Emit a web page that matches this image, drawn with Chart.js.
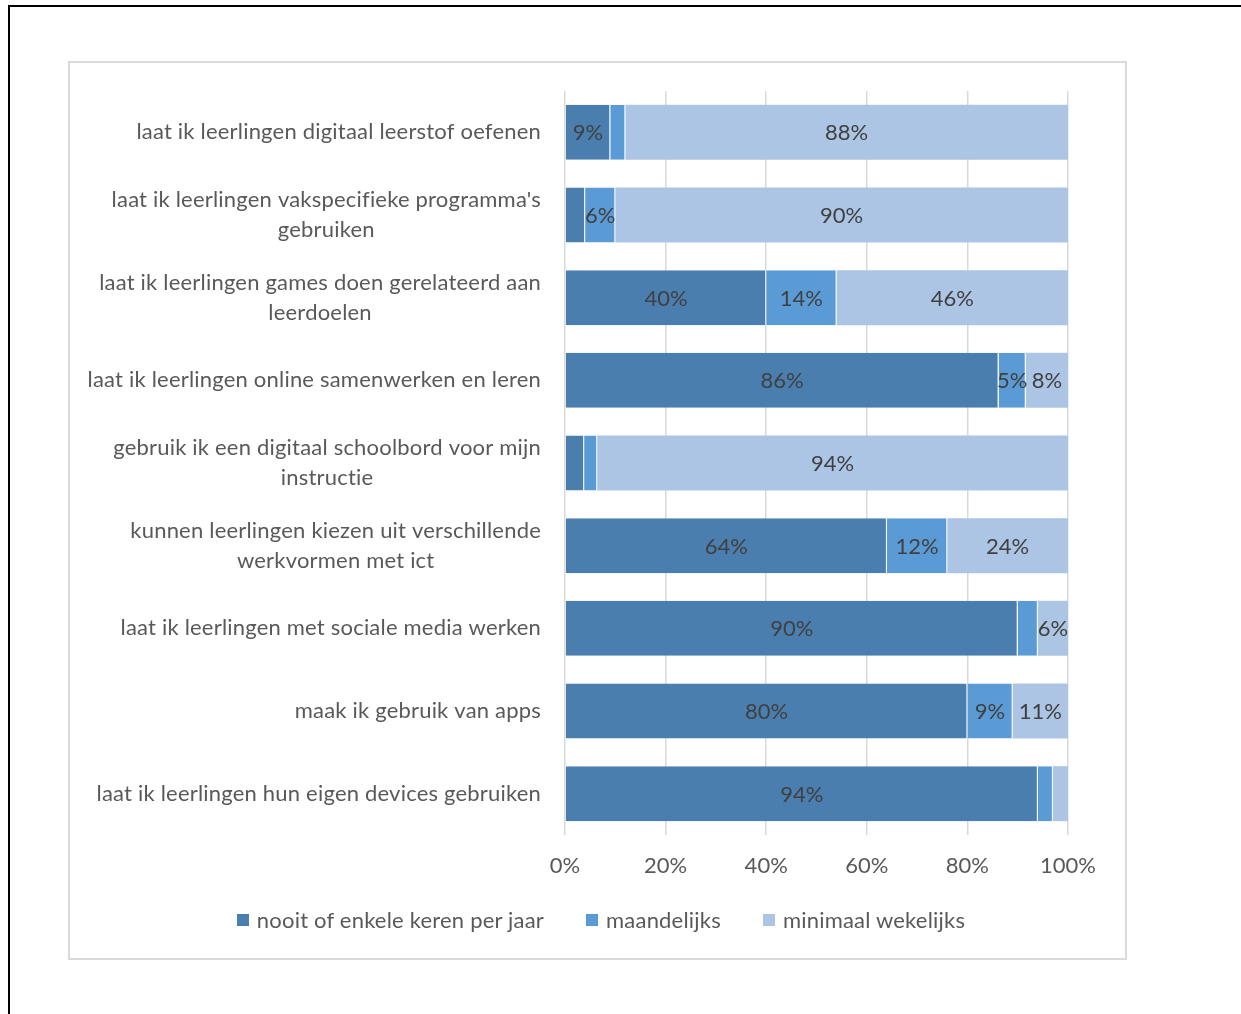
<!DOCTYPE html>
<html>
<head>
<meta charset="utf-8">
<script src="https://cdn.jsdelivr.net/npm/chart.js@4/dist/chart.umd.min.js"></script>
<style>
  html, body { margin: 0; padding: 0; background: #fff; }
  #wrap { position: relative; width: 1241px; height: 1014px; overflow: hidden; }
  #page { position: absolute; left: 8px; top: 5px; width: 1240px; height: 1020px;
          border-top: 2px solid #000; border-left: 2px solid #000; }
  #frame { position: absolute; left: 68px; top: 61px; width: 1055px; height: 895px;
           border: 2px solid #d9d9d9; }
  canvas { position: absolute; left: 0; top: 0; }
  #legend { position: absolute; left: 0; width: 1202px; top: 905px; display: flex;
            justify-content: center; gap: 42px; font: 22px Lato, "Open Sans", sans-serif;
            color: #595959; line-height: 30px; letter-spacing: 0.2px; }
  #legend span.item { display: flex; align-items: center; }
  #legend span.box { display: inline-block; width: 12px; height: 12px; margin-right: 8px; }
</style>
</head>
<body>
<div id="wrap">
  <div id="page"></div>
  <div id="frame"></div>
  <canvas id="usageChart" width="1241" height="1014"></canvas>
  <div id="legend"></div>
</div>
<script>
const categories = [
    'laat ik leerlingen digitaal leerstof oefenen',
    ["laat ik leerlingen vakspecifieke programma's", 'gebruiken'],
    ['laat ik leerlingen games doen gerelateerd aan', 'leerdoelen'],
    'laat ik leerlingen online samenwerken en leren',
    ['gebruik ik een digitaal schoolbord voor mijn', 'instructie'],
    ['kunnen leerlingen kiezen uit verschillende', 'werkvormen met ict'],
    'laat ik leerlingen met sociale media werken',
    'maak ik gebruik van apps',
    'laat ik leerlingen hun eigen devices gebruiken'
];
const nooit = [9, 4, 40, 86.2, 3.8, 64, 90, 80, 94];
const maandelijks = [3, 6, 14, 5.4, 2.6, 12, 4, 9, 3];
const wekelijks = [88, 90, 46, 8.4, 93.6, 24, 6, 11, 3];
const xTicks = ['0%', '20%', '40%', '60%', '80%', '100%'];

const fontFamily = 'Lato, "Open Sans", sans-serif';

// category labels: block right-aligned to the axis, lines centred in the block
const categoryLabels = {
    id: 'categoryLabels',
    afterDraw(chart) {
        const ctx = chart.ctx;
        const yScale = chart.scales.y;
        const right = chart.chartArea.left - 24;
        ctx.save();
        ctx.font = '22px ' + fontFamily;
        ctx.letterSpacing = '0.2px';
        ctx.fillStyle = '#595959';
        ctx.textAlign = 'center';
        ctx.textBaseline = 'middle';
        categories.forEach((label, i) => {
            const lines = Array.isArray(label) ? label : [label];
            const w = Math.max(...lines.map(l => ctx.measureText(l).width));
            const cx = right - w / 2;
            const cy = yScale.getPixelForValue(i);
            lines.forEach((l, j) => {
                ctx.fillText(l, cx, cy + (j - (lines.length - 1) / 2) * 30);
            });
        });
        ctx.restore();
    }
};

// percentage labels in the middle of each segment
const segmentLabels = {
    id: 'segmentLabels',
    afterDatasetsDraw(chart) {
        const ctx = chart.ctx;
        ctx.save();
        ctx.font = '22px ' + fontFamily;
        ctx.fillStyle = '#404040';
        ctx.textAlign = 'center';
        ctx.textBaseline = 'middle';
        chart.data.datasets.forEach((ds, di) => {
            chart.getDatasetMeta(di).data.forEach((bar, i) => {
                const v = ds.data[i];
                if (v < 4.5) return;
                ctx.fillText(Math.round(v) + '%', (bar.x + bar.base) / 2, bar.y + 1);
            });
        });
        ctx.restore();
    }
};

const ctx = document.getElementById('usageChart').getContext('2d');
const usageChart = new Chart(ctx, {
    type: 'bar',
    data: {
        labels: categories,
        datasets: [{
            label: 'nooit of enkele keren per jaar',
            data: nooit,
            backgroundColor: '#4a7eaf',
            borderColor: '#ffffff',
            borderWidth: { right: 1 },
            borderSkipped: false
        }, {
            label: 'maandelijks',
            data: maandelijks,
            backgroundColor: '#5b9bd5',
            borderColor: '#ffffff',
            borderWidth: { right: 1 },
            borderSkipped: false
        }, {
            label: 'minimaal wekelijks',
            data: wekelijks,
            backgroundColor: '#adc5e5',
            borderColor: '#ffffff',
            borderWidth: { right: 0 },
            borderSkipped: false
        }]
    },
    options: {
        indexAxis: 'y',
        responsive: false,
        animation: false,
        datasets: { bar: { categoryPercentage: 1, barPercentage: 0.665 } },
        layout: { padding: { left: 134, right: 173, top: 91, bottom: 133 } },
        scales: {
            x: {
                stacked: true,
                min: 0,
                max: 100,
                grid: { color: '#d9d9d9', lineWidth: 1.5, drawTicks: false },
                border: { display: false },
                afterFit(scale) { scale.height = 46; },
                ticks: {
                    stepSize: 20,
                    padding: 18,
                    color: '#595959',
                    font: { family: fontFamily, size: 22 },
                    callback: (v, i) => xTicks[i]
                }
            },
            y: {
                stacked: true,
                grid: { display: false },
                border: { display: false },
                ticks: { display: false },
                afterFit(scale) { scale.width = 431; }
            }
        },
        plugins: {
            legend: { display: false },
            tooltip: { enabled: false }
        }
    },
    plugins: [categoryLabels, segmentLabels]
});

// legend built from the chart's datasets
const legendEl = document.getElementById('legend');
usageChart.data.datasets.forEach(ds => {
    const item = document.createElement('span');
    item.className = 'item';
    const box = document.createElement('span');
    box.className = 'box';
    box.style.background = ds.backgroundColor;
    item.appendChild(box);
    item.appendChild(document.createTextNode(ds.label));
    legendEl.appendChild(item);
});
</script>
</body>
</html>
